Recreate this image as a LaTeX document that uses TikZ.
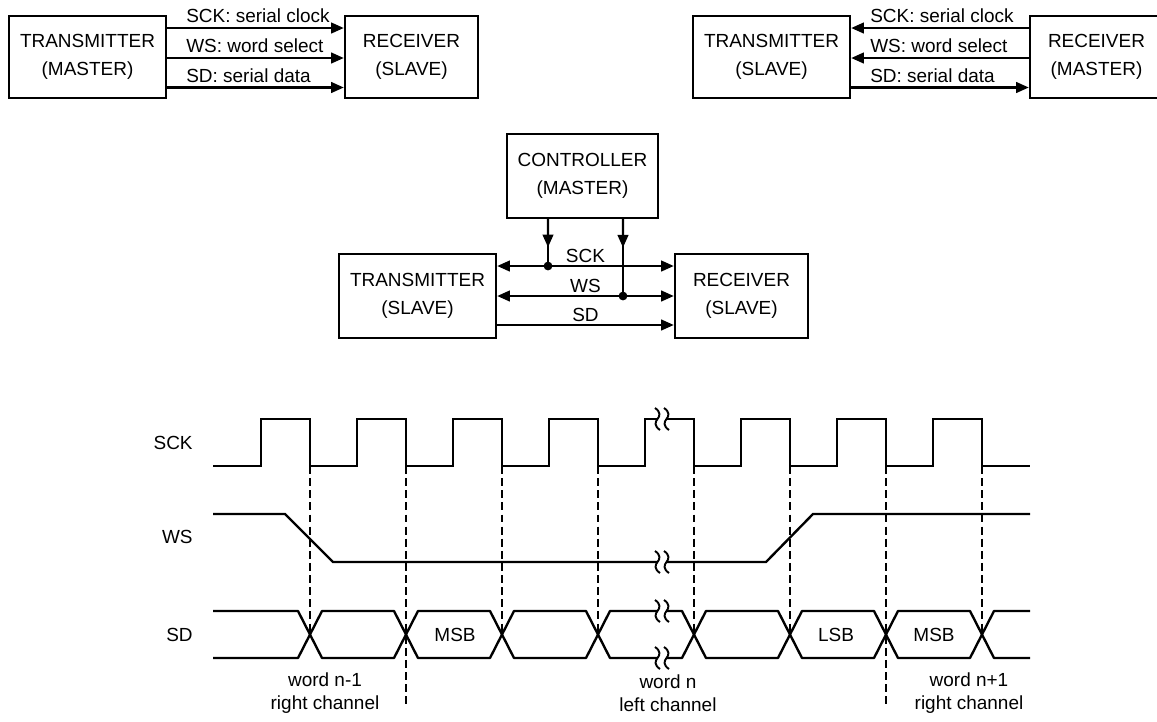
\documentclass[tikz,border=0pt]{standalone}
\usepackage{fontspec}
\setmainfont{Liberation Sans}
\usetikzlibrary{arrows.meta,calc}

\begin{document}
\begin{tikzpicture}[x=0.02cm,y=-0.02cm,
    font=\fontsize{10.8pt}{13pt}\selectfont,
    blockbox/.style={draw,line width=1.35pt,align=center,inner sep=0pt,
      font=\fontsize{10.8pt}{16pt}\selectfont},
    bigbox/.style={blockbox,minimum width=3.14cm,minimum height=1.64cm},
    smallbox/.style={blockbox,minimum width=2.66cm,minimum height=1.64cm},
    arrow/.style={-{Triangle[length=7.2pt,width=6pt]},line width=1.35pt},
    twoway/.style={{Triangle[length=7.2pt,width=6pt]}-{Triangle[length=7.2pt,width=6pt]},line width=1.35pt},
    wire/.style={line width=1.35pt},
    sig/.style={line width=1.35pt},
    eye/.style={line width=1.35pt,line join=round},
    edgeline/.style={line width=1.2pt,dash pattern=on 4.5pt off 2.4pt},
    buslabel/.style={anchor=base west,inner sep=0pt,xshift=10.2pt,yshift=3pt},
    midlabel/.style={anchor=base,inner sep=0pt,yshift=2.2pt},
    signame/.style={anchor=east,inner sep=0pt},
    joint/.style={circle,fill,inner sep=0pt,minimum size=5pt},
    brk/.pic={
      \fill[white] (-4.5,-3) rectangle (4.5,3);
      \foreach \s in {-4.5,4.5}
        \draw[line width=1.1pt] (\s-2.5,-11) .. controls (\s+3.5,-7) and (\s+2.5,-3) .. (\s,0)
          .. controls (\s-2.5,3) and (\s-3.5,7) .. (\s+2.5,11);
    }
]
\useasboundingbox (0,0) rectangle (1157,721);
\clip (0,0) rectangle (1157,721);

\node[bigbox] (txM) at (87.5,57) {TRANSMITTER\\(MASTER)};
\node[smallbox] (rxS) at (411.5,57) {RECEIVER\\(SLAVE)};
\draw[arrow] ([yshift=0.58cm]txM.east) -- node[buslabel,pos=0]{SCK: serial clock} ([yshift=0.58cm]rxS.west);
\draw[arrow] ([yshift=-0.02cm]txM.east) -- node[buslabel,pos=0]{WS: word select} ([yshift=-0.02cm]rxS.west);
\draw[arrow] ([yshift=-0.61cm]txM.east) -- node[buslabel,pos=0]{SD: serial data} ([yshift=-0.61cm]rxS.west);

\node[bigbox] (txS) at (771.5,57) {TRANSMITTER\\(SLAVE)};
\node[smallbox] (rxM) at (1096.5,57) {RECEIVER\\(MASTER)};
\draw[arrow] ([yshift=0.58cm]rxM.west) -- node[buslabel,pos=1]{SCK: serial clock} ([yshift=0.58cm]txS.east);
\draw[arrow] ([yshift=-0.02cm]rxM.west) -- node[buslabel,pos=1]{WS: word select} ([yshift=-0.02cm]txS.east);
\draw[arrow] ([yshift=-0.61cm]txS.east) -- node[buslabel,pos=0]{SD: serial data} ([yshift=-0.61cm]rxM.west);

\node[bigbox,minimum width=3.02cm,minimum height=1.68cm] (ctrl) at (582.5,176) {CONTROLLER\\(MASTER)};
\node[bigbox,minimum height=1.68cm] (txC) at (417.5,296) {TRANSMITTER\\(SLAVE)};
\node[smallbox,minimum height=1.68cm] (rxC) at (741.5,296) {RECEIVER\\(SLAVE)};
\draw[twoway] ([yshift=0.6cm]txC.east) coordinate (sckL) -- node[midlabel]{SCK} ([yshift=0.6cm]rxC.west);
\draw[twoway] (txC.east) coordinate (wsL) -- node[midlabel]{WS} (rxC.west);
\draw[arrow] ([yshift=-0.58cm]txC.east) -- node[midlabel]{SD} ([yshift=-0.58cm]rxC.west);
\coordinate (ckTop) at ([xshift=-0.69cm]ctrl.south);
\coordinate (wsTop) at ([xshift=0.81cm]ctrl.south);
\coordinate (ckJoin) at (ckTop |- sckL);
\coordinate (wsJoin) at (wsTop |- wsL);
\draw[wire] (ckTop) -- (ckJoin);
\draw[wire] (wsTop) -- (wsJoin);
\draw[arrow] (ckTop) -- ($(ckTop)!0.6!(ckJoin)$);
\draw[arrow] (wsTop) -- ($(wsTop)!0.37!(wsJoin)$);
\node[joint] (ckDot) at (ckJoin) {};
\node[joint] (wsDot) at (wsJoin) {};

\node[signame] (sckName) at (193,443) {SCK};
\node[signame] (wsName) at (193,537) {WS};
\node[signame] (sdName) at (193,635) {SD};

\foreach \c in {310,502,598,694,790,982}
  \draw[edgeline] (\c,466) -- (\c,634.5);
\foreach \c in {406,886}
  \draw[edgeline] (\c,466) -- (\c,708);

\draw[sig] (213,466) \foreach \r in {261,357,...,933} { -- (\r,466) -- (\r,419) -- (\r+49,419) -- (\r+49,466) } -- (1030,466);
\draw[sig] (213,514) -- (285,514) -- (333,562) -- (766,562) -- (813,514) -- (1030,514);
\draw[eye] (213,611) -- (298,611) -- (310,634.5) -- (298,658) -- (213,658);
\foreach \c [remember=\c as \p (initially 310)] in {406,502,...,982}
  \draw[eye] (\p,634.5) -- (\p+12,611) -- (\c-12,611) -- (\c,634.5) -- (\c-12,658) -- (\p+12,658) -- cycle;
\draw[eye] (1030,611) -- (994,611) -- (982,634.5) -- (994,658) -- (1030,658);

\pic at (662,419) {brk};
\pic at (662,562) {brk};
\pic at (662,611) {brk};
\pic at (662,658) {brk};

\node (msbA) at (455,635) {MSB};
\node (lsb) at (836,635) {LSB};
\node (msbB) at (934,635) {MSB};
\node[align=center] (wordPrev) at (325,693.5) {word n-1\\right channel};
\node[align=center] (wordCur) at (668,693.5) {word n\\left channel};
\node[align=center] (wordNext) at (969,693.5) {word n+1\\right channel};
\end{tikzpicture}
\end{document}
